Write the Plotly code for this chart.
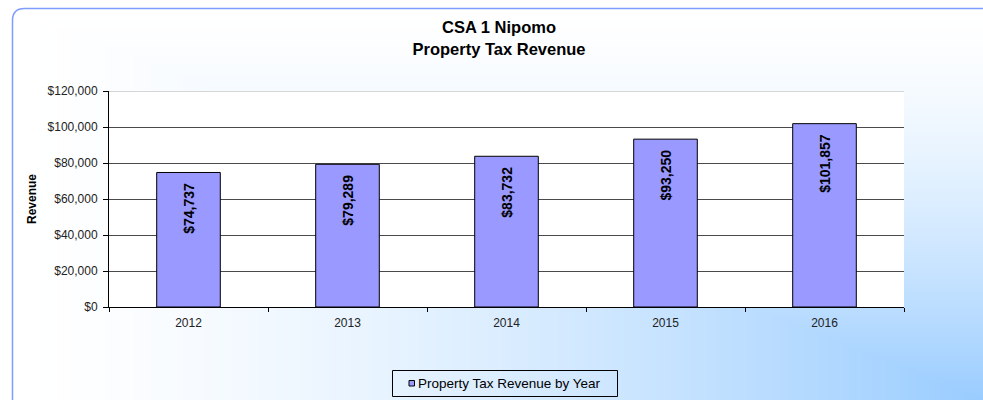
import base64
import struct
import zlib
import plotly.graph_objects as go

# ---------------- data ----------------
years = ["2012", "2013", "2014", "2015", "2016"]
revenue = [74737, 79289, 83732, 93250, 101857]
y_tick_values = [0, 20000, 40000, 60000, 80000, 100000, 120000]
y_tick_labels = ["$0", "$20,000", "$40,000", "$60,000", "$80,000", "$100,000", "$120,000"]
series_name = "Property Tax Revenue by Year"
chart_title = "CSA 1 Nipomo<br>Property Tax Revenue"
y_title = "Revenue"

# ---------------- geometry (screen pixels) ----------------
W, H = 983, 400
PLOT_L, PLOT_R, PLOT_T, PLOT_B = 109, 904, 91, 307
L, T = PLOT_L, PLOT_T
PW, PH = PLOT_R - PLOT_L, PLOT_B - PLOT_T
R, B = W - L - PW, H - T - PH
FONT = "Liberation Sans, Arial, sans-serif"


def px_x(sx):
    return (sx - PLOT_L) / PW


def px_y(sy):
    return (PLOT_B - sy) / PH


# ---------------- gradient background (PNG) ----------------
def make_png(w, h, rows):
    def chunk(tag, data):
        c = struct.pack(">I", len(data)) + tag + data
        return c + struct.pack(">I", zlib.crc32(tag + data) & 0xFFFFFFFF)
    raw = b"".join(b"\x00" + r for r in rows)
    return (b"\x89PNG\r\n\x1a\n" + chunk(b"IHDR", struct.pack(">IIBBBBB", w, h, 8, 2, 0, 0, 0))
            + chunk(b"IDAT", zlib.compress(raw, 9)) + chunk(b"IEND", b""))


c0 = (255, 255, 255)
c1 = (153, 204, 255)
X0, Y0 = 12, 8


def col(s):
    s = max(0.0, min(1.0, s))
    t = s ** 1.5
    return bytes(int(round(c0[i] + (c1[i] - c0[i]) * t)) for i in range(3))


white = bytes(c0)
xn = [(x - X0) / (W - X0) for x in range(W)]
colx = [col(v) for v in xn]
rows = []
for y in range(H):
    if y < Y0:
        rows.append(white * W)
        continue
    yn = (y - Y0) / (H - Y0)
    cy = col(yn)
    row = bytearray()
    for x in range(W):
        if x < X0 or (PLOT_L <= x < PLOT_R and PLOT_T <= y < PLOT_B):
            row += white
        elif xn[x] < yn:
            row += colx[x]
        else:
            row += cy
    rows.append(bytes(row))
png_uri = "data:image/png;base64," + base64.b64encode(make_png(W, H, rows)).decode()

# ---------------- figure ----------------
fig = go.Figure()
fig.add_trace(go.Bar(
    x=years, y=revenue, name=series_name,
    marker=dict(color="#9999ff", line=dict(color="black", width=1)),
    texttemplate="%{y:$,.0f}\u00a0\u00a0",
    textposition="inside", insidetextanchor="end", textangle=-90,
    textfont=dict(family=FONT, size=14, color="black", weight="bold"),
    showlegend=False,
))

# rounded chart border
r = 12
bx, by = 12.5, 8.5
border_path = (f"M {px_x(bx)},{px_y(H + 20)} L {px_x(bx)},{px_y(by + r)} "
               f"Q {px_x(bx)},{px_y(by)} {px_x(bx + r)},{px_y(by)} L {px_x(W + 20)},{px_y(by)}")

shapes = [
    dict(type="path", xref="paper", yref="paper", path=border_path,
         line=dict(color="#7f9cff", width=1.5)),
    dict(type="line", xref="paper", yref="y", x0=0, x1=1, y0=120000, y1=120000,
         line=dict(color="#c8c8c8", width=1.5), layer="above"),
    # legend box and key
    dict(type="rect", xref="paper", yref="paper",
         x0=px_x(392.5), x1=px_x(617.5), y0=px_y(370.5), y1=px_y(396.5),
         line=dict(color="black", width=1), fillcolor="rgba(0,0,0,0)"),
    dict(type="rect", xref="paper", yref="paper",
         x0=px_x(409), x1=px_x(414.5), y0=px_y(380.5), y1=px_y(386),
         line=dict(color="black", width=1), fillcolor="#9999ff"),
]

annotations = [
    dict(xref="paper", yref="paper", x=px_x(415.5), y=px_y(383.5), xanchor="left", yanchor="middle",
         text=series_name, showarrow=False, font=dict(family=FONT, size=13.5, color="black")),
]

fig.update_layout(
    width=W, height=H,
    margin=dict(l=L, r=R, t=T, b=B, pad=0),
    paper_bgcolor="white", plot_bgcolor="white",
    font=dict(family=FONT, color="#222222", size=12),
    title=dict(text=f"<b>{chart_title}</b>", x=499 / W, xref="container", xanchor="center",
               y=1 - 32.5 / (H - 8), yref="container", yanchor="top",
               font=dict(family=FONT, size=16.5, color="black")),
    bargap=0.6,
    shapes=shapes, annotations=annotations,
    images=[dict(source=png_uri, xref="paper", yref="paper", x=px_x(0), y=px_y(0),
                 sizex=W / PW, sizey=H / PH, xanchor="left", yanchor="top",
                 sizing="stretch", layer="below")],
    xaxis=dict(showline=True, linecolor="black", linewidth=1, ticks="outside", ticklen=4,
               tickcolor="black", tickson="boundaries", showgrid=False, ticklabelstandoff=5,
               tickfont=dict(size=12, color="#222222")),
    yaxis=dict(range=[0, 120000], tickvals=y_tick_values, ticktext=y_tick_labels,
               showline=True, linecolor="black", linewidth=1, ticks="outside", ticklen=5,
               tickcolor="black", gridcolor="#4a4a4a", gridwidth=1, zeroline=False,
               ticklabelstandoff=3,
               tickfont=dict(size=12, color="#222222"),
               title=dict(text=f"<b>{y_title}</b>", standoff=8,
                          font=dict(family=FONT, size=12, color="black"))),
)

fig.write_html(
    "out.html",
    config={"displayModeBar": False},
    post_script="document.body.style.margin='0';document.body.style.overflow='hidden';",
)
